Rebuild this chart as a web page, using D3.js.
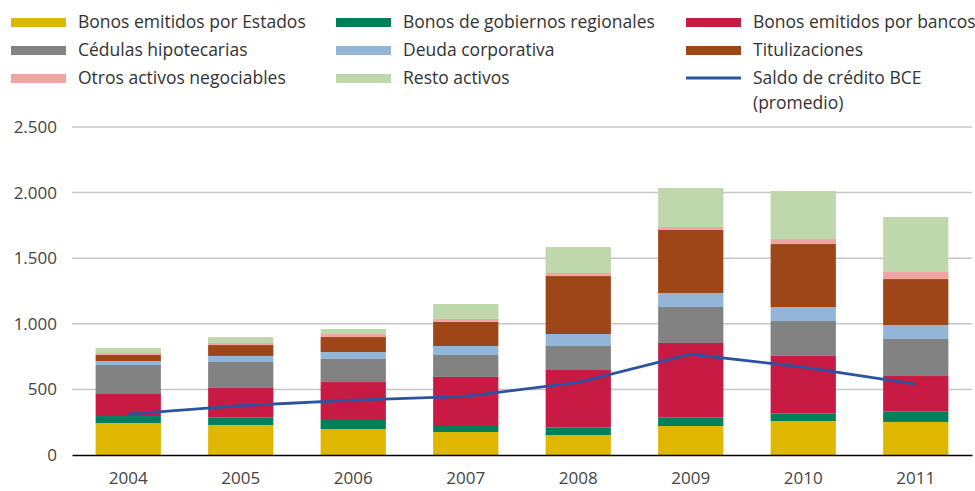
<!DOCTYPE html>
<html>
<head>
<meta charset="utf-8">
<script src="https://cdn.jsdelivr.net/npm/d3@7"></script>
<style>
  body { margin: 0; background: #fff; }
  svg text { font-family: "Open Sans", sans-serif; fill: #333; }
  .axis text { font-size: 17px; fill: #444; }
  .legend text { font-size: 17.5px; fill: #333; }
</style>
</head>
<body>
<div id="chart"></div>
<script>
// data
var years = ["2004", "2005", "2006", "2007", "2008", "2009", "2010", "2011"];

var estados     = [244, 229, 198, 175, 152, 221, 259, 252];
var regionales  = [53, 58, 69, 46, 59, 66, 59, 81];
var bancos      = [168, 224, 289, 374, 437, 567, 437, 269];
var cedulas     = [221, 198, 176, 167, 183, 274, 266, 282];
var corporativa = [30, 46, 53, 69, 91, 107, 107, 107];
var titulizac   = [46, 83, 114, 183, 442, 480, 480, 350];
var otros       = [15, 16, 23, 23, 23, 23, 38, 54];
var resto       = [39, 45, 38, 114, 198, 297, 366, 419];

var saldoBCE    = [312, 376, 419, 447, 554, 768, 670, 541];

var yTicks = [0, 500, 1000, 1500, 2000, 2500];

var seriesNames = ["Bonos emitidos por Estados", "Bonos de gobiernos regionales", "Bonos emitidos por bancos",
  "Cédulas hipotecarias", "Deuda corporativa", "Titulizaciones",
  "Otros activos negociables", "Resto activos"];
var seriesValues = [estados, regionales, bancos, cedulas, corporativa, titulizac, otros, resto];
var colors = ["#dfb700", "#00805a", "#c81b44", "#828282", "#93b6d8", "#9e4617", "#f0a4a4", "#bed8ab"];
var lineName = ["Saldo de crédito BCE", "(promedio)"];
var lineColor = "#2b53a1";

var width = 975, height = 491;
var margin = {top: 127, right: 3, bottom: 36, left: 72};
var w = width - margin.left - margin.right;
var h = height - margin.top - margin.bottom;

var svg = d3.select("#chart").append("svg")
  .attr("width", width)
  .attr("height", height);

// build table for the stack
var table = years.map(function(y, i) {
  var row = {year: y};
  seriesNames.forEach(function(n, k) { row[n] = seriesValues[k][i]; });
  return row;
});

var stack = d3.stack().keys(seriesNames);
var stacked = stack(table);

var x = d3.scaleBand().domain(years).range([0, w]).paddingInner(0.42).paddingOuter(0.21);
var y = d3.scaleLinear().domain([0, 2500]).range([h, 0]);

var g = svg.append("g").attr("transform", "translate(" + margin.left + "," + margin.top + ")");

// grid
g.append("g")
  .selectAll("line")
  .data(yTicks.slice(1))
  .enter().append("line")
    .attr("x1", 0).attr("x2", w)
    .attr("y1", function(d) { return y(d); })
    .attr("y2", function(d) { return y(d); })
    .attr("stroke", "#c6c6c6")
    .attr("stroke-width", 1.5);

// y axis labels
var yAxis = d3.axisLeft(y).tickValues(yTicks).tickSize(0).tickPadding(15)
  .tickFormat(function(d) { return d3.format(",")(d).replace(/,/g, "."); });
var ya = g.append("g").attr("class", "axis").call(yAxis);
ya.select(".domain").remove();

// bars
g.selectAll(".layer")
  .data(stacked)
  .enter().append("g")
    .attr("class", "layer")
    .attr("fill", function(d, i) { return colors[i]; })
  .selectAll("rect")
  .data(function(d) { return d; })
  .enter().append("rect")
    .attr("x", function(d) { return x(d.data.year); })
    .attr("width", x.bandwidth())
    .attr("y", function(d) { return y(d[1]); })
    .attr("height", function(d) { return y(d[0]) - y(d[1]); });

// baseline + x axis
var xAxis = d3.axisBottom(x).tickSize(0).tickPadding(17);
var xa = g.append("g").attr("class", "axis")
  .attr("transform", "translate(0," + h + ")")
  .call(xAxis);
xa.select(".domain").attr("stroke", "#000").attr("stroke-width", 1.5);

// line
var line = d3.line()
  .x(function(d, i) { return x(years[i]) + x.bandwidth() / 2; })
  .y(function(d) { return y(d); });

g.append("path")
  .datum(saldoBCE)
  .attr("fill", "none")
  .attr("stroke", lineColor)
  .attr("stroke-width", 2.8)
  .attr("d", line);

// legend
var legend = svg.append("g").attr("class", "legend");
var colX = [11, 336, 686];
var rowY = [22, 50, 78];

seriesNames.forEach(function(n, i) {
  var cx = colX[i % 3], cy = rowY[Math.floor(i / 3)];
  var item = legend.append("g").attr("transform", "translate(" + cx + "," + cy + ")");
  item.append("rect")
    .attr("x", 0).attr("y", -4)
    .attr("width", 55).attr("height", 9)
    .attr("fill", colors[i]);
  item.append("text")
    .attr("x", 67).attr("y", 0)
    .attr("dy", "0.35em")
    .text(n);
});

var li = legend.append("g").attr("transform", "translate(" + colX[2] + "," + rowY[2] + ")");
li.append("line")
  .attr("x1", 0).attr("x2", 55)
  .attr("y1", 0).attr("y2", 0)
  .attr("stroke", lineColor)
  .attr("stroke-width", 3);
li.selectAll("text")
  .data(lineName)
  .enter().append("text")
    .attr("x", 67)
    .attr("y", function(d, i) { return i * 25; })
    .attr("dy", "0.35em")
    .text(function(d) { return d; });
</script>
</body>
</html>
